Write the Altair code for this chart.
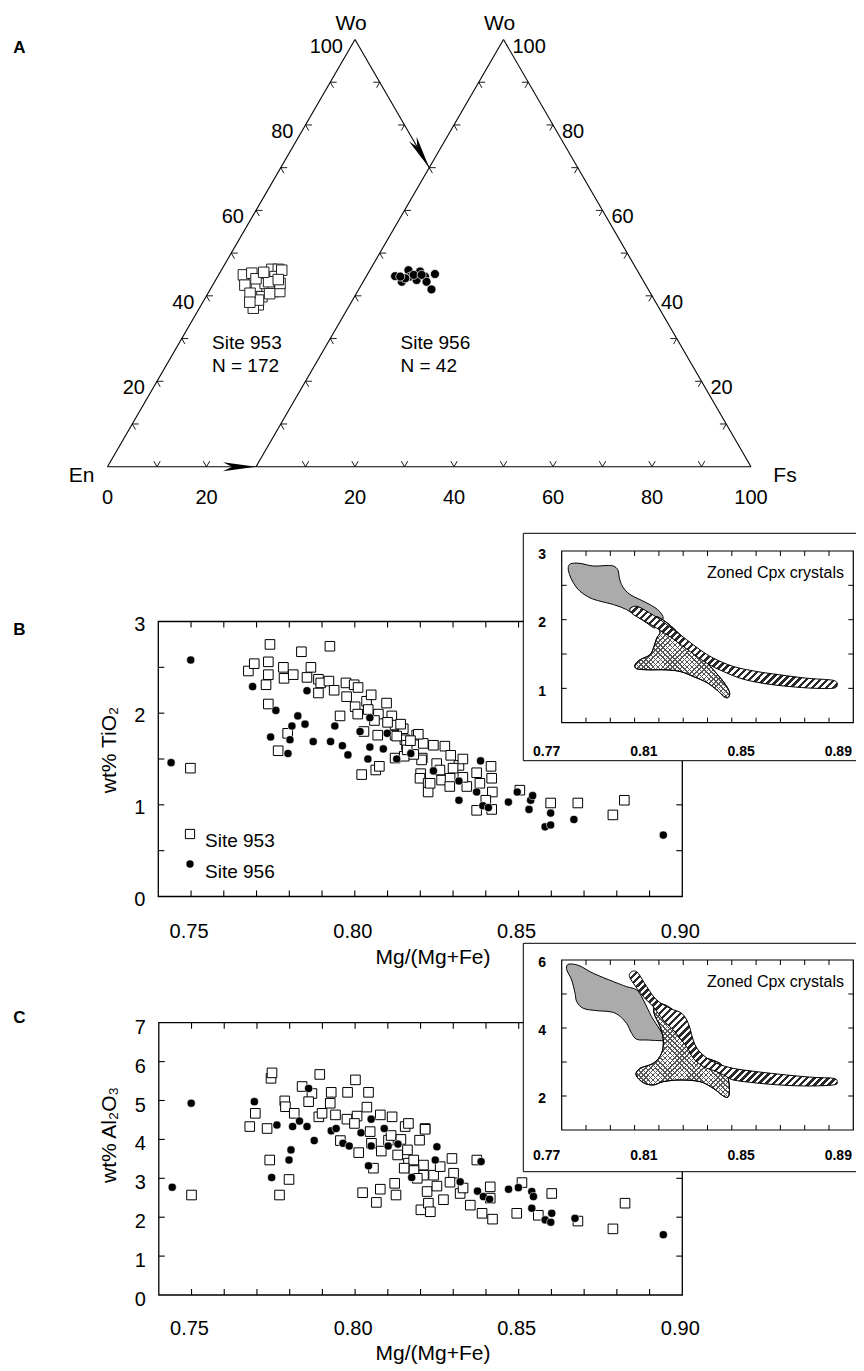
import math
import altair as alt
import pandas as pd

# ------------------------------------------------------------------
# DATA
# ------------------------------------------------------------------
# Panel A : ternary compositions (Wo %, Fs %; En = 100 - Wo - Fs)
A953_WO = [44.9, 45.3, 46.2, 46.2, 44.5, 42.5, 41.8, 42.9, 39.8, 39.8, 41.0, 41.0,
           37.9, 37.1, 39.0, 43.3, 40.6, 46.0, 42.9, 44.0, 40.5, 38.5, 45.5, 43.8]
A953_FS = [5.0, 6.5, 10.1, 11.4, 11.6, 6.5, 9.2, 10.4, 9.9, 11.3, 13.0, 14.3,
           11.5, 10.9, 11.0, 10.9, 8.5, 12.2, 13.4, 8.0, 12.5, 9.5, 8.8, 12.6]
A956_WO = [44.6, 43.3, 46.0, 44.5, 43.7, 45.7, 44.5, 43.3, 45.1, 41.5, 44.1, 44.9, 44.9, 44.5]
A956_FS = [5.8, 7.8, 7.8, 8.9, 10.6, 10.3, 11.9, 12.8, 13.6, 14.7, 8.1, 9.4, 11.0, 6.9]
TERN_TICKS = [10, 20, 30, 40, 50, 60, 70, 80, 90]
TERN_LABELS = [20, 40, 60, 80, 100]
BOTTOM_LABELS_953 = [0, 20]
BOTTOM_LABELS_956 = [20, 40, 60, 80, 100]

# Panel B : TiO2 vs Mg/(Mg+Fe)
B953_MG = [0.7498, 0.7675, 0.7693, 0.7736, 0.7741, 0.7736, 0.7729, 0.7736, 0.7782, 0.7784,
           0.7812, 0.7795, 0.7766, 0.7837, 0.7866, 0.7854, 0.7889, 0.7896, 0.7889, 0.7924,
           0.7921, 0.7937, 0.7955, 0.7973, 0.7998, 0.7975, 0.8001, 0.8009, 0.8036, 0.8041,
           0.8072, 0.8097, 0.8113, 0.8123, 0.8028, 0.8070, 0.8123, 0.8148, 0.8153, 0.8189,
           0.8209, 0.8123, 0.8151, 0.8206, 0.8021, 0.8064, 0.8075, 0.8201, 0.8199, 0.8224,
           0.8224, 0.8128, 0.8158, 0.8194, 0.8240, 0.8275, 0.8293, 0.8318, 0.8204, 0.8230,
           0.8265, 0.8291, 0.8342, 0.8372, 0.8382, 0.8416, 0.8418, 0.8420, 0.8372, 0.8418,
           0.8504, 0.8598, 0.8681, 0.8788, 0.8823, 0.8160, 0.8180, 0.8250, 0.8260, 0.8300,
           0.8330, 0.8100, 0.8060, 0.8140, 0.8050, 0.8010, 0.8170, 0.8330, 0.8290, 0.8400]
B953_TI = [1.40, 2.46, 2.54, 2.56, 2.75, 2.42, 2.31, 2.10, 2.50, 2.38,
           2.42, 1.78, 1.59, 2.67, 2.50, 2.39, 2.37, 2.33, 2.22, 2.73,
           2.35, 2.25, 1.97, 2.33, 2.31, 2.18, 2.07, 1.99, 2.13, 2.04,
           1.99, 2.11, 1.97, 1.87, 1.80, 1.76, 1.76, 1.83, 1.71, 1.76,
           1.67, 1.51, 1.53, 1.51, 1.33, 1.38, 1.42, 1.34, 1.29, 1.235,
           1.14, 1.75, 1.65, 1.77, 1.65, 1.64, 1.54, 1.43, 1.49, 1.235,
           1.27, 1.29, 1.20, 1.35, 1.235, 1.42, 1.29, 1.14, 0.94, 0.95,
           1.16, 1.02, 1.02, 0.89, 1.05, 1.60, 1.55, 1.45, 1.38, 1.40,
           1.30, 1.90, 1.92, 1.88, 2.20, 2.28, 1.70, 1.50, 1.20, 1.05]
B956_MG = [0.7439, 0.7499, 0.7688, 0.7759, 0.7743, 0.7802, 0.7796, 0.7808, 0.7826, 0.7848,
           0.7854, 0.7873, 0.7926, 0.7939, 0.7962, 0.7979, 0.8016, 0.8040, 0.8046, 0.8046,
           0.8087, 0.8099, 0.8128, 0.8171, 0.8240, 0.8318, 0.8318, 0.8372, 0.8384, 0.8391,
           0.8408, 0.8469, 0.8496, 0.8532, 0.8537, 0.8543, 0.8581, 0.8598, 0.8598, 0.8669, 0.8942]
B956_TI = [1.46, 2.58, 2.29, 2.03, 1.74, 1.71, 1.56, 1.86, 1.97, 1.88,
           2.245, 1.69, 1.69, 1.86, 1.645, 1.545, 1.80, 1.50, 1.63, 1.95,
           1.61, 1.78, 1.50, 1.56, 1.37, 1.26, 1.05, 1.14, 1.48, 0.99,
           0.97, 1.03, 1.14, 0.95, 1.05, 1.10, 0.76, 0.78, 0.91, 0.84, 0.67]

# Panel C : Al2O3 vs Mg/(Mg+Fe)
C953_MG = [0.7500, 0.7678, 0.7695, 0.7731, 0.7739, 0.7743, 0.7746, 0.7769, 0.7785, 0.7787,
           0.7798, 0.7814, 0.7838, 0.7868, 0.7858, 0.7892, 0.7889, 0.7899, 0.7924, 0.7927,
           0.7940, 0.7955, 0.7975, 0.7977, 0.8001, 0.8006, 0.7998, 0.8011, 0.8023, 0.8036,
           0.8041, 0.8046, 0.8056, 0.8065, 0.8077, 0.8077, 0.8102, 0.8113, 0.8121, 0.8125,
           0.8153, 0.8160, 0.8163, 0.8179, 0.8197, 0.8201, 0.8214, 0.8209, 0.8220, 0.8224,
           0.8150, 0.8163, 0.8214, 0.8209, 0.8240, 0.8230, 0.8296, 0.8301, 0.8321, 0.8352,
           0.8388, 0.8413, 0.8413, 0.8372, 0.8494, 0.8510, 0.8601, 0.8825, 0.8681, 0.8788,
           0.8420, 0.8560, 0.8050, 0.8080, 0.8130, 0.8180, 0.8250, 0.8270, 0.8290, 0.8330,
           0.8260, 0.8110, 0.8140, 0.8190]
C953_AL = [2.57, 4.33, 4.67, 4.28, 3.47, 5.57, 5.71, 2.57, 4.99, 4.84,
           2.97, 4.67, 5.36, 5.18, 4.97, 5.67, 4.58, 4.67, 4.93, 5.21,
           4.63, 3.97, 4.52, 5.21, 5.53, 4.60, 4.41, 3.66, 2.63, 4.83,
           5.21, 4.20, 3.26, 2.38, 4.63, 2.72, 3.98, 4.58, 2.87, 2.57,
           4.33, 3.73, 3.39, 3.47, 3.98, 2.19, 4.28, 3.08, 2.66, 2.36,
           3.26, 4.41, 4.26, 3.34, 3.08, 2.14, 3.51, 3.13, 2.61, 2.31,
           2.10, 2.78, 2.49, 3.47, 2.10, 2.89, 2.61, 2.36, 1.90, 1.70,
           1.95, 2.05, 3.90, 3.70, 3.60, 3.20, 2.80, 2.45, 2.90, 2.75,
           3.30, 4.10, 4.00, 3.00]
C956_MG = [0.7441, 0.7499, 0.7692, 0.7761, 0.7745, 0.7804, 0.7798, 0.7809, 0.7830, 0.7853,
           0.7858, 0.7875, 0.7927, 0.7942, 0.7963, 0.7982, 0.8018, 0.8041, 0.8049, 0.8049,
           0.8089, 0.8101, 0.8131, 0.8173, 0.8250, 0.8245, 0.8321, 0.8374, 0.8385, 0.8392,
           0.8411, 0.8469, 0.8499, 0.8540, 0.8545, 0.8540, 0.8601, 0.8581, 0.8598, 0.8672, 0.8942]
C956_AL = [2.77, 4.93, 4.97, 4.37, 3.02, 3.73, 3.47, 4.33, 4.47, 4.33,
           5.31, 3.97, 4.22, 4.28, 3.90, 3.83, 4.17, 3.32, 3.83, 4.52,
           4.28, 3.83, 3.88, 3.02, 3.81, 3.47, 2.91, 2.67, 3.43, 2.53,
           2.46, 2.72, 2.76, 2.66, 2.53, 2.23, 2.10, 1.93, 1.87, 1.97, 1.55]

MG_TICKS = [0.75, 0.76, 0.77, 0.78, 0.79, 0.80, 0.81, 0.82, 0.83, 0.84, 0.85, 0.86, 0.87, 0.88, 0.89]
MG_LABELS = [0.75, 0.80, 0.85, 0.90]
TI_TICKS = [0.5, 1.0, 1.5, 2.0, 2.5]
TI_LABELS = [0, 1, 2, 3]
AL_TICKS = [1, 2, 3, 4, 5, 6]
AL_LABELS = [0, 1, 2, 3, 4, 5, 6, 7]

# Insets: zoned Cpx crystal fields (outlines)
IN_X_TICKS = [0.78, 0.79, 0.80, 0.81, 0.82, 0.83, 0.84, 0.85, 0.86, 0.87, 0.88]
IN_X_LABELS = [0.77, 0.81, 0.85, 0.89]
INB_Y_TICKS = [1.0, 1.5, 2.0, 2.5]
INB_Y_LABELS = [1, 2, 3]
INC_Y_TICKS = [2, 3, 4, 5]
INC_Y_LABELS = [2, 4, 6]

INB_GRAY_X = [0.7727, 0.7737, 0.7775, 0.7830, 0.7892, 0.7919, 0.7933, 0.7937, 0.7951, 0.7981,
              0.8022, 0.8070, 0.8102, 0.8118, 0.8105, 0.8084, 0.8050, 0.8009, 0.7967, 0.7913,
              0.7858, 0.7817, 0.7775, 0.7748, 0.7732]
INB_GRAY_Y = [2.756, 2.815, 2.820, 2.781, 2.790, 2.771, 2.708, 2.610, 2.479, 2.366,
              2.293, 2.206, 2.123, 2.025, 1.977, 1.879, 1.952, 2.050, 2.147, 2.220,
              2.269, 2.318, 2.415, 2.537, 2.659]
INB_BAND_X = [0.7984, 0.8009, 0.8050, 0.8105, 0.8159, 0.8214, 0.8269, 0.8324, 0.8406, 0.8502,
              0.8598, 0.8708, 0.8804, 0.8829, 0.8834, 0.8818, 0.8735, 0.8639, 0.8543, 0.8447,
              0.8365, 0.8297, 0.8228, 0.8159, 0.8091, 0.8036, 0.7995, 0.7981]
INB_BAND_Y = [2.172, 2.196, 2.123, 2.001, 1.855, 1.709, 1.562, 1.441, 1.319, 1.246,
              1.197, 1.148, 1.124, 1.099, 1.051, 1.002, 1.002, 1.026, 1.065, 1.134,
              1.246, 1.367, 1.538, 1.718, 1.879, 1.991, 2.074, 2.133]
INB_CROSS_X = [0.8084, 0.8111, 0.8159, 0.8214, 0.8269, 0.8324, 0.8365, 0.8390, 0.8386, 0.8368,
               0.8338, 0.8297, 0.8242, 0.8187, 0.8125, 0.8057, 0.8009, 0.8002, 0.8022, 0.8063,
               0.8080, 0.8091, 0.8105, 0.8091]
INB_CROSS_Y = [2.040, 2.011, 1.879, 1.684, 1.489, 1.270, 1.099, 0.953, 0.870, 0.880,
               0.978, 1.085, 1.172, 1.246, 1.270, 1.270, 1.285, 1.343, 1.416, 1.489,
               1.611, 1.733, 1.816, 1.928]

INC_GRAY_X = [0.7723, 0.7741, 0.7775, 0.7830, 0.7913, 0.7967, 0.8009, 0.8036, 0.8070, 0.8105,
              0.8125, 0.8118, 0.8050, 0.8009, 0.7988, 0.7967, 0.7933, 0.7899, 0.7844, 0.7789,
              0.7762, 0.7755, 0.7741, 0.7721]
INC_GRAY_Y = [5.853, 5.882, 5.824, 5.608, 5.363, 5.216, 5.118, 4.824, 4.333, 3.941,
              3.667, 3.627, 3.647, 3.667, 3.843, 4.137, 4.382, 4.480, 4.510, 4.578,
              4.775, 5.020, 5.412, 5.706]
INC_BAND_X = [0.7981, 0.7995, 0.8015, 0.8050, 0.8091, 0.8146, 0.8194, 0.8221, 0.8249, 0.8290,
              0.8338, 0.8406, 0.8502, 0.8626, 0.8735, 0.8818, 0.8834, 0.8818, 0.8708, 0.8598,
              0.8488, 0.8406, 0.8379, 0.8338, 0.8283, 0.8242, 0.8214, 0.8159, 0.8118, 0.8077,
              0.8036, 0.7995, 0.7979]
INC_BAND_Y = [5.608, 5.676, 5.608, 5.216, 4.824, 4.578, 4.431, 4.137, 3.500, 3.157,
              2.961, 2.814, 2.716, 2.618, 2.549, 2.520, 2.422, 2.324, 2.294, 2.324,
              2.392, 2.471, 2.569, 2.716, 2.863, 3.108, 3.451, 3.941, 4.235, 4.627,
              4.922, 5.314, 5.510]
INC_CROSS_X = [0.8084, 0.8118, 0.8159, 0.8194, 0.8214, 0.8235, 0.8283, 0.8351, 0.8379, 0.8390,
               0.8386, 0.8365, 0.8324, 0.8269, 0.8187, 0.8118, 0.8077, 0.8036, 0.8006, 0.8022,
               0.8077, 0.8111, 0.8118, 0.8105, 0.8080]
INC_CROSS_Y = [4.676, 4.696, 4.529, 4.284, 3.941, 3.451, 3.157, 2.961, 2.667, 2.275,
               1.980, 2.000, 2.225, 2.422, 2.471, 2.422, 2.324, 2.392, 2.618, 2.814,
               2.961, 3.255, 3.647, 4.039, 4.431]

# ------------------------------------------------------------------
# LAYOUT / STYLE
# ------------------------------------------------------------------
OFF = 8
FONT = "Liberation Sans"
SQ3 = 0.8660254


def sc(domain, lo, hi):
    return alt.Scale(domain=domain, range=[lo - OFF, hi - OFF], nice=False, zero=False)


A_XD, A_YD = [0, 130], [0, 86.60254]
B_XD, B_YD = [0.74, 0.90], [0, 3]
C_XD, C_YD = [0.74, 0.90], [0, 7]
IN_XD = [0.77, 0.89]
IB_YD, IC_YD = [0.5, 3], [1, 6]

A_X = sc(A_XD, 107.5, 751.0)
A_Y = sc(A_YD, 466.7, 39.5)
B_X = sc(B_XD, 158.3, 682.3)
B_Y = sc(B_YD, 896.5, 621.5)
C_X = sc(C_XD, 158.8, 682.3)
C_Y = sc(C_YD, 1295.0, 1022.7)
IB_X = sc(IN_XD, 561.7, 853.3)
IB_Y = sc(IB_YD, 722.7, 551.0)
IC_X = sc(IN_XD, 561.7, 853.3)
IC_Y = sc(IC_YD, 1130.0, 960.0)


def qx(f, s):
    return alt.X(f, type="quantitative", scale=s, axis=None)


def qy(f, s):
    return alt.Y(f, type="quantitative", scale=s, axis=None)


def pv(v):
    return alt.value(v - OFF)


def one():
    return pd.DataFrame({"k": [0]})


def label(text, x, y, size, align="center", baseline="middle", bold=False, angle=0):
    kw = dict(text=text, font=FONT, fontSize=size, align=align, baseline=baseline, color="black")
    if bold:
        kw["fontWeight"] = "bold"
    if angle:
        kw["angle"] = angle
    return alt.Chart(one()).mark_text(**kw).encode(x=pv(x), y=pv(y))


layers = []

# ------------------------------------------------------------------
# PANEL A (ternary)
# ------------------------------------------------------------------
TL = 1.3
seg_rows = []


def seg(fs1, wo1, fs2, wo2, off, kind):
    seg_rows.append(dict(fs1=fs1, wo1=wo1, fs2=fs2, wo2=wo2, off=off, kind=kind))


# outlines
seg(0, 0, 0, 100, 0, "edge"); seg(0, 100, 30, 70, 0, "edge"); seg(0, 0, 30, 0, 0, "edge")
seg(0, 0, 0, 100, 30, "edge"); seg(0, 100, 100, 0, 30, "edge"); seg(0, 0, 100, 0, 30, "edge")
for off, lt, bt, rt in [(0, TERN_TICKS, [10, 20], [90, 80]),
                         (30, TERN_TICKS, TERN_TICKS, TERN_TICKS)]:
    for w in lt:
        seg(0, w, TL, w, off, "tick"); seg(0, w, TL, w - TL, off, "tick")
    for f in bt:
        seg(f, 0, f, TL, off, "tick"); seg(f, 0, f - TL, TL, off, "tick")
    for w in rt:
        seg(100 - w, w, 100 - w - TL, w, off, "tick"); seg(100 - w, w, 100 - w, w - TL, off, "tick")
seg_df = pd.DataFrame(seg_rows)


def tern_seg_chart(df, sw):
    return alt.Chart(df).transform_calculate(
        u1="datum.off + datum.fs1 + datum.wo1 / 2", v1=f"datum.wo1 * {SQ3}",
        u2="datum.off + datum.fs2 + datum.wo2 / 2", v2=f"datum.wo2 * {SQ3}",
    ).mark_rule(color="black", strokeWidth=sw).encode(
        x=qx("u1:Q", A_X), y=qy("v1:Q", A_Y), x2="u2:Q", y2="v2:Q")


layers.append(tern_seg_chart(seg_df[seg_df.kind == "edge"], 1.1))
layers.append(tern_seg_chart(seg_df[seg_df.kind == "tick"], 0.9))


def tern_calc(ch):
    return ch.transform_calculate(u="datum.off + datum.fs + datum.wo / 2", v=f"datum.wo * {SQ3}")


ARROW = "M0,0L-2,-0.27L-1.45,0L-2,0.27Z"
for fs, wo, ang in [(30, 0, 0), (30, 70, 60)]:
    layers.append(tern_calc(alt.Chart(pd.DataFrame({"fs": [fs], "wo": [wo], "off": [0]})))
                  .mark_point(shape=ARROW, filled=True, fill="black", strokeWidth=0,
                              size=1089, angle=ang, opacity=1)
                  .encode(x=qx("u:Q", A_X), y=qy("v:Q", A_Y)))

# ternary tick labels
lab_left = pd.DataFrame({"wo": TERN_LABELS, "fs": 0, "off": 0, "t": [str(v) for v in TERN_LABELS]})
lab_right = pd.DataFrame({"wo": TERN_LABELS, "fs": [100 - v for v in TERN_LABELS], "off": 30,
                          "t": [str(v) for v in TERN_LABELS]})
lab_bot = pd.DataFrame({"wo": 0, "fs": BOTTOM_LABELS_953 + BOTTOM_LABELS_956,
                        "off": [0] * len(BOTTOM_LABELS_953) + [30] * len(BOTTOM_LABELS_956),
                        "t": [str(v) for v in BOTTOM_LABELS_953 + BOTTOM_LABELS_956]})
for df, al, dx, dy in [(lab_left, "right", -12, 7), (lab_right, "left", 9, 7), (lab_bot, "center", 0, 31.5)]:
    layers.append(tern_calc(alt.Chart(df)).mark_text(
        font=FONT, fontSize=20, align=al, baseline="middle", dx=dx, dy=dy, color="black"
    ).encode(x=qx("u:Q", A_X), y=qy("v:Q", A_Y), text="t:N"))

# vertex names
vert = pd.DataFrame({"fs": [0, 0], "wo": [100, 100], "off": [0, 30], "t": ["Wo", "Wo"]})
layers.append(tern_calc(alt.Chart(vert)).mark_text(
    font=FONT, fontSize=21, align="center", baseline="middle", dx=-4, dy=-16, color="black"
).encode(x=qx("u:Q", A_X), y=qy("v:Q", A_Y), text="t:N"))
layers.append(tern_calc(alt.Chart(pd.DataFrame({"fs": [0], "wo": [0], "off": [0], "t": ["En"]}))).mark_text(
    font=FONT, fontSize=21, align="center", baseline="middle", dx=-26, dy=9, color="black"
).encode(x=qx("u:Q", A_X), y=qy("v:Q", A_Y), text="t:N"))
layers.append(tern_calc(alt.Chart(pd.DataFrame({"fs": [100], "wo": [0], "off": [30], "t": ["Fs"]}))).mark_text(
    font=FONT, fontSize=21, align="center", baseline="middle", dx=34, dy=9, color="black"
).encode(x=qx("u:Q", A_X), y=qy("v:Q", A_Y), text="t:N"))

# data points
t953 = pd.DataFrame({"wo": A953_WO, "fs": A953_FS, "off": 0})
t956 = pd.DataFrame({"wo": A956_WO, "fs": A956_FS, "off": 30})
layers.append(tern_calc(alt.Chart(t953)).mark_square(
    fill="white", stroke="#222222", strokeWidth=1, size=110, opacity=1
).encode(x=qx("u:Q", A_X), y=qy("v:Q", A_Y)))
layers.append(tern_calc(alt.Chart(t956)).mark_circle(
    fill="black", stroke="white", strokeWidth=0.7, size=81, opacity=1
).encode(x=qx("u:Q", A_X), y=qy("v:Q", A_Y)))

layers.append(label("Site 953", 212, 349.3, 19, align="left", baseline="alphabetic"))
layers.append(label("N = 172", 212, 371.7, 19, align="left", baseline="alphabetic"))
layers.append(label("Site 956", 400.5, 349.3, 19, align="left", baseline="alphabetic"))
layers.append(label("N = 42", 400.5, 371.7, 19, align="left", baseline="alphabetic"))
layers.append(label("A", 19.5, 48, 17, bold=True))


# ------------------------------------------------------------------
# helpers for the x-y panels
# ------------------------------------------------------------------
def frame(xd, yd, sx, sy, sw):
    df = pd.DataFrame({"x0": [xd[0]], "x1": [xd[1]], "y0": [yd[0]], "y1": [yd[1]]})
    return alt.Chart(df).mark_rect(fill="white", fillOpacity=0, stroke="black", strokeWidth=sw).encode(
        x=qx("x0:Q", sx), x2="x1:Q", y=qy("y0:Q", sy), y2="y1:Q")


def ticks(xvals, yvals, xd, yd, sx, sy, ln, sw):
    out = []
    bx = pd.DataFrame({"x": xvals})
    out.append(alt.Chart(bx).transform_calculate(y=str(yd[0])).mark_rule(
        color="black", strokeWidth=sw, y2Offset=-ln).encode(x=qx("x:Q", sx), y=qy("y:Q", sy), y2="y:Q"))
    out.append(alt.Chart(bx).transform_calculate(y=str(yd[1])).mark_rule(
        color="black", strokeWidth=sw, y2Offset=ln).encode(x=qx("x:Q", sx), y=qy("y:Q", sy), y2="y:Q"))
    by = pd.DataFrame({"y": yvals})
    out.append(alt.Chart(by).transform_calculate(x=str(xd[0])).mark_rule(
        color="black", strokeWidth=sw, x2Offset=ln).encode(x=qx("x:Q", sx), x2="x:Q", y=qy("y:Q", sy)))
    out.append(alt.Chart(by).transform_calculate(x=str(xd[1])).mark_rule(
        color="black", strokeWidth=sw, x2Offset=-ln).encode(x=qx("x:Q", sx), x2="x:Q", y=qy("y:Q", sy)))
    return out


def xlabels(vals, ypos, sx, sy, dx, dy, size, fmt, bold=False):
    kw = dict(font=FONT, fontSize=size, align="center", baseline="middle", dx=dx, dy=dy, color="black")
    if bold:
        kw["fontWeight"] = "bold"
    return alt.Chart(pd.DataFrame({"v": vals})).transform_calculate(y=str(ypos)).mark_text(**kw).encode(
        x=qx("v:Q", sx), y=qy("y:Q", sy), text=alt.Text("v:Q", format=fmt))


def ylabels(vals, xpos, sx, sy, dx, dy, size, fmt, align="right", bold=False):
    kw = dict(font=FONT, fontSize=size, align=align, baseline="middle", dx=dx, dy=dy, color="black")
    if bold:
        kw["fontWeight"] = "bold"
    return alt.Chart(pd.DataFrame({"v": vals})).transform_calculate(x=str(xpos)).mark_text(**kw).encode(
        x=qx("x:Q", sx), y=qy("v:Q", sy), text=alt.Text("v:Q", format=fmt))


def scatter(mg953, v953, mg956, v956, sx, sy):
    d1 = pd.DataFrame({"mg": mg953, "v": v953})
    d2 = pd.DataFrame({"mg": mg956, "v": v956})
    return [
        alt.Chart(d1).mark_square(fill="white", stroke="black", strokeWidth=1, size=92, opacity=1)
        .encode(x=qx("mg:Q", sx), y=qy("v:Q", sy)),
        alt.Chart(d2).mark_circle(fill="black", stroke="white", strokeWidth=0.6, size=66, opacity=1)
        .encode(x=qx("mg:Q", sx), y=qy("v:Q", sy)),
    ]


def stripes(w, h, period, dark_frac, dark, light, slant):
    s = w + h
    k = s / (w * w + h * h)
    a, b = k * w, k * h
    if slant == "/":
        x1, y1, x2, y2 = 0, 0, a, b
    else:
        x1, y1, x2, y2 = 0, 1, a, 1 - b
    n = s / (period * math.sqrt(2))
    stops = []
    i = 0
    while i / n < 1:
        s0 = i / n
        s1 = min((i + dark_frac) / n, 1.0)
        s2 = min((i + 1) / n, 1.0)
        stops += [alt.GradientStop(color=dark, offset=s0), alt.GradientStop(color=dark, offset=s1),
                  alt.GradientStop(color=light, offset=s1), alt.GradientStop(color=light, offset=s2)]
        i += 1
    return alt.LinearGradient(gradient="linear", stops=stops, x1=x1, y1=y1, x2=x2, y2=y2)


def pxsize(xs, ys, xd, yd, xr, yr):
    w = (max(xs) - min(xs)) / (xd[1] - xd[0]) * xr
    h = (max(ys) - min(ys)) / (yd[1] - yd[0]) * yr
    return w, h


def poly(xs, ys, sx, sy, fill, stroke_op=1.0, sw=1.0):
    df = pd.DataFrame({"x": xs, "y": ys, "i": list(range(len(xs)))})
    return alt.Chart(df).mark_line(interpolate="cardinal-closed", fill=fill, stroke="black",
                                   strokeWidth=sw, strokeOpacity=stroke_op).encode(
        x=qx("x:Q", sx), y=qy("y:Q", sy), order="i:Q")


def inset(sx, sy, yd, y_ticks, y_labels, box_top, box_bottom, zoned_y, xlab_dy, ylab_dy,
          gx, gy, bx, by, cx, cy):
    out = []
    out.append(alt.Chart(one()).mark_rect(fill="white", stroke="black", strokeWidth=1).encode(
        x=pv(523.3), x2=pv(870), y=pv(box_top), y2=pv(box_bottom)))
    xr = 853.3 - 561.7
    yr = (sy.range[0] - sy.range[1])
    out.append(poly(gx, gy, sx, sy, "#ababab"))
    w, h = pxsize(cx, cy, IN_XD, yd, xr, yr)
    out.append(poly(cx, cy, sx, sy, stripes(w, h, 3.4, 0.3, "#555555", "white", "/")))
    out.append(poly(cx, cy, sx, sy, stripes(w, h, 3.4, 0.3, "#555555", "rgba(255,255,255,0)", "\\"),
                    stroke_op=1.0))
    w, h = pxsize(bx, by, IN_XD, yd, xr, yr)
    out.append(poly(bx, by, sx, sy, stripes(w, h, 5.0, 0.5, "#2a2a2a", "white", "/")))
    out.append(frame(IN_XD, yd, sx, sy, 1.2))
    out += ticks(IN_X_TICKS, y_ticks, IN_XD, yd, sx, sy, 5, 1)
    out.append(xlabels(IN_X_LABELS, yd[0], sx, sy, -15, xlab_dy, 14, ".2f", bold=True))
    out.append(ylabels(y_labels, IN_XD[0], sx, sy, -19.5, ylab_dy, 14, "d", align="center", bold=True))
    out.append(label("Zoned Cpx crystals", 844, zoned_y, 16, align="right", baseline="alphabetic"))
    return out


# ------------------------------------------------------------------
# PANEL B
# ------------------------------------------------------------------
layers.append(frame(B_XD, B_YD, B_X, B_Y, 1.3))
layers += ticks(MG_TICKS, TI_TICKS, B_XD, B_YD, B_X, B_Y, 6, 1.1)
layers.append(ylabels(TI_LABELS, B_XD[0], B_X, B_Y, -13, 3, 20, "d"))
layers.append(xlabels(MG_LABELS, B_YD[0], B_X, B_Y, -2, 35, 20, ".2f"))
layers.append(label("Mg/(Mg+Fe)", 433, 958, 21))
layers.append(label("wt% TiO₂", 110, 750, 21, angle=270))
layers.append(label("B", 19.5, 630, 17, bold=True))
layers += scatter(B953_MG, B953_TI, B956_MG, B956_TI, B_X, B_Y)
# legend
layers.append(alt.Chart(one()).mark_square(fill="white", stroke="black", strokeWidth=1, size=85, opacity=1)
              .encode(x=pv(190), y=pv(834)))
layers.append(alt.Chart(one()).mark_circle(fill="black", size=55, opacity=1).encode(x=pv(190), y=pv(864)))
layers.append(label("Site 953", 205, 847, 19, align="left", baseline="alphabetic"))
layers.append(label("Site 956", 205, 878, 19, align="left", baseline="alphabetic"))

# inset B
layers += inset(IB_X, IB_Y, IB_YD, INB_Y_TICKS, INB_Y_LABELS, 533.3, 760.7, 578.3, 29, 3.5,
                INB_GRAY_X, INB_GRAY_Y, INB_BAND_X, INB_BAND_Y, INB_CROSS_X, INB_CROSS_Y)

# ------------------------------------------------------------------
# PANEL C
# ------------------------------------------------------------------
layers.append(frame(C_XD, C_YD, C_X, C_Y, 1.3))
layers += ticks(MG_TICKS, AL_TICKS, C_XD, C_YD, C_X, C_Y, 6, 1.1)
layers.append(ylabels(AL_LABELS, C_XD[0], C_X, C_Y, -13, 5, 20, "d"))
layers.append(xlabels(MG_LABELS, C_YD[0], C_X, C_Y, -2, 34, 20, ".2f"))
layers.append(label("Mg/(Mg+Fe)", 433, 1354, 21))
layers.append(label("wt% Al₂O₃", 110, 1135, 21, angle=270))
layers.append(label("C", 19.5, 1018, 17, bold=True))
layers += scatter(C953_MG, C953_AL, C956_MG, C956_AL, C_X, C_Y)

# inset C
layers += inset(IC_X, IC_Y, IC_YD, INC_Y_TICKS, INC_Y_LABELS, 943.3, 1171.7, 987.3, 26, 2.5,
                INC_GRAY_X, INC_GRAY_Y, INC_BAND_X, INC_BAND_Y, INC_CROSS_X, INC_CROSS_Y)

chart = alt.layer(*layers).resolve_scale(x="independent", y="independent").properties(
    width=848, height=1362, padding=0, autosize=alt.AutoSizeParams(type="none"),
    background="white"
).configure_view(stroke=None)

chart.save("out.html", embed_options={"renderer": "svg", "actions": False})
